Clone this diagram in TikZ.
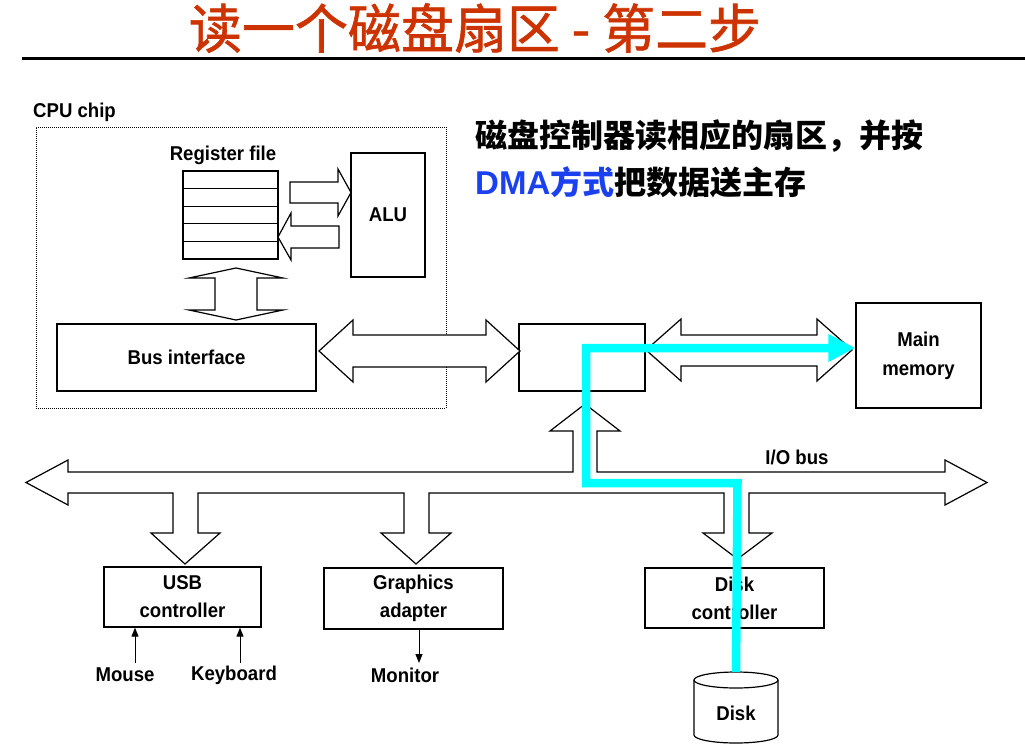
\documentclass[tikz,border=0pt]{standalone}
\usepackage{fontspec}
\setmainfont{Liberation Sans}
\newfontfamily\cjk{Noto Sans CJK SC}
\newfontfamily\cjktitle{Noto Sans CJK SC}[FakeBold=1.2]
\newfontfamily\lblface{Liberation Sans}[FakeStretch=0.93]
\usetikzlibrary{arrows.meta}
\definecolor{titlered}{RGB}{204,51,0}
\definecolor{dmablue}{RGB}{26,64,240}
\definecolor{dmacyan}{RGB}{0,255,255}
\newcommand\lblfont{\lblface\fontsize{20}{28}\selectfont\bfseries}
\begin{document}
\begin{tikzpicture}[x=1pt,y=-1pt,
  box/.style={draw, line width=1.3pt, fill=white, inner sep=0pt, align=center, font=\lblfont},
  lbl/.style={inner sep=0pt, align=center, font=\lblfont},
  fat/.style={draw, line width=1.2pt, fill=white, line join=miter},
  thin/.style={line width=1pt, -{Triangle[length=9pt,width=7pt]}},
  dmapath/.style={draw=dmacyan, line width=8.5pt, line join=miter,
    -{Triangle[length=27pt,width=26pt]}}]
\useasboundingbox (0,0) rectangle (1025,750);

% title and rule
\node (title) at (475,28) {\fontsize{53}{60}\selectfont\cjktitle\color{titlered}读一个磁盘扇区 - 第二步};
\draw[line width=3.5pt] (22,58.5) -- (1025,58.5);

% side note
\node[anchor=west, inner sep=0pt] (note1) at (475,136)
  {\fontsize{32}{36}\selectfont\cjk\bfseries 磁盘控制器读相应的扇区，并按};
\node[anchor=west, inner sep=0pt] (note2) at (475,182)
  {\fontsize{32}{36}\selectfont\bfseries{\color{dmablue}{\fontsize{33}{36}\selectfont DMA}\cjk 方式}\cjk 把数据送主存};

% CPU chip outline
\node[draw, line width=0.8pt, dash pattern=on 1pt off 1pt, minimum width=410pt, minimum height=281pt, inner sep=0pt] (cpu) at (241,267.5) {};
\node[lbl, anchor=west] (cpulbl) at (33,112) {CPU chip};

% register file and ALU
\node[box, minimum width=95pt, minimum height=88pt] (regfile) at (230.5,215) {};
\foreach \yy in {188.6,206.2,223.8,241.4}
  \draw[line width=1.3pt] (regfile.west |- 0,\yy) -- (regfile.east |- 0,\yy);
\node[lbl] (reglbl) at (223,155) {Register file};
\node[box, minimum width=74pt, minimum height=124pt] (alu) at (388,215) {ALU};

% wide arrows inside the chip
\draw[fat] (290,182) -- (338,182) -- (338,169) -- (351,192.5) -- (338,216) -- (338,203) -- (290,203) -- cycle;
\draw[fat] (339,226) -- (291,226) -- (291,213) -- (278,237) -- (291,260) -- (291,248) -- (339,248) -- cycle;
\draw[fat] (236,268) -- (283,278) -- (257,278) -- (257,310) -- (283,310) -- (236,320)
  -- (189,310) -- (215,310) -- (215,278) -- (189,278) -- cycle;

% bus interface, I/O bridge, main memory
\node[box, minimum width=259pt, minimum height=67pt] (busif) at (186.5,357.5) {Bus interface};
\node[box, minimum width=126pt, minimum height=67pt] (bridge) at (582,357.5) {};
\node[box, minimum width=125pt, minimum height=105pt] (mem) at (918.5,355.5) {Main\\[1pt]memory};

\draw[fat] (319,351) -- (353,320) -- (353,335) -- (486,335) -- (486,320) -- (520,351)
  -- (486,382) -- (486,367) -- (353,367) -- (353,382) -- cycle;
\draw[fat] (646,350) -- (681,319) -- (681,335) -- (817,335) -- (817,319) -- (852,350)
  -- (817,381) -- (817,366) -- (681,366) -- (681,381) -- cycle;

% I/O bus with its branches
\draw[fat] (26,482.5) -- (68,460) -- (68,472) -- (573,472) -- (573,431) -- (550,431) -- (585,404)
  -- (620,431) -- (597,431) -- (597,472) -- (945,472) -- (945,460) -- (987,482.5) -- (945,505)
  -- (945,493) -- (749,493) -- (749,533) -- (772,533) -- (737.5,559) -- (703,533) -- (724,533)
  -- (724,493) -- (429,493) -- (429,533) -- (451,533) -- (416,564) -- (381,533) -- (404,533)
  -- (404,493) -- (198,493) -- (198,533) -- (220,533) -- (185,564) -- (151,533) -- (173,533)
  -- (173,493) -- (68,493) -- (68,505) -- cycle;
\node[lbl] (iobus) at (797,457) {I/O bus};

% controllers
\node[box, minimum width=157pt, minimum height=60pt] (usb) at (182.5,597) {USB\\controller};
\node[box, minimum width=179pt, minimum height=61pt] (gfx) at (413.5,598.5) {Graphics\\adapter};
\node[box, minimum width=179pt, minimum height=60pt] (dctl) at (734.5,598) {Disk\\controller};

% devices
\node[lbl] (mouse) at (125,675) {Mouse};
\node[lbl] (kbd) at (234,675) {Keyboard};
\node[lbl] (mon) at (405,675) {Monitor};
\coordinate (msx) at (135,663);
\coordinate (kbx) at (240,663);
\coordinate (mnx) at (419,663);
\draw[thin] (msx) -- (msx |- usb.south);
\draw[thin] (kbx) -- (kbx |- usb.south);
\draw[thin] (mnx |- gfx.south) -- (mnx);

% disk
\node[minimum width=84pt, minimum height=71pt, inner sep=0pt] (disk) at (736,707.5) {};
\draw[line width=1.2pt, fill=white] (694,680) -- (694,735) arc[start angle=180, end angle=0, x radius=42, y radius=8] -- (778,680);
\draw[line width=1.2pt, fill=white] (736,680) ellipse [x radius=42, y radius=8];
\node[lbl] (disklbl) at (736,713) {Disk};

% DMA transfer path
\coordinate (c1) at (737.5,483);
\coordinate (c2) at (586,483);
\coordinate (c3) at (586,348);
\draw[dmapath] (disk.north) -- (c1) -- (c2) -- (c3) -- (c3 -| mem.west);
\end{tikzpicture}
\end{document}
